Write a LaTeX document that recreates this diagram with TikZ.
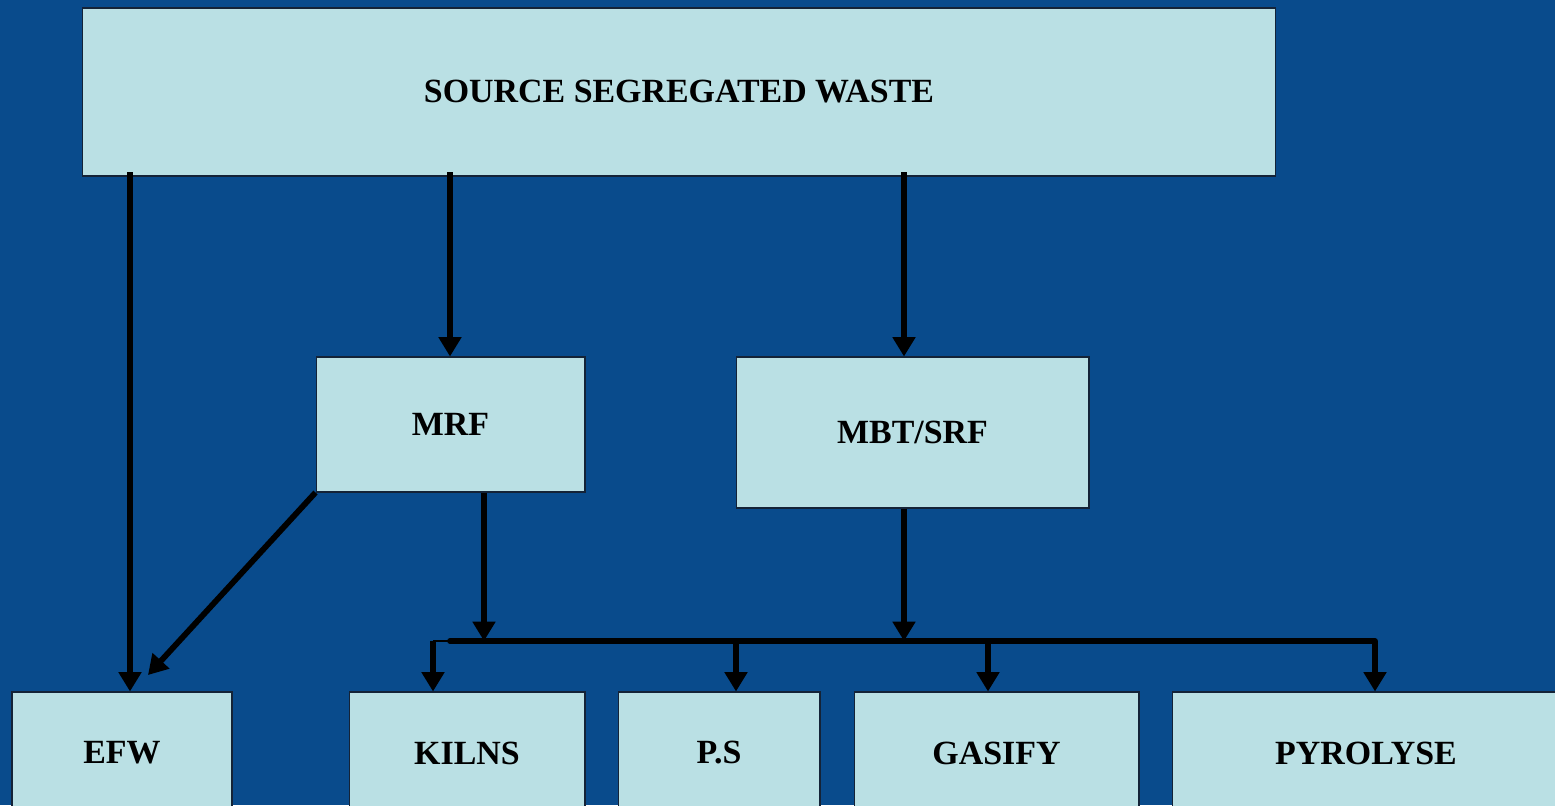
\documentclass[tikz,border=0pt]{standalone}
\usepackage{fontspec}
\setmainfont{Liberation Serif}
\usepackage{tikz}
\usetikzlibrary{arrows.meta}
\definecolor{bgblue}{RGB}{9,75,140}
\definecolor{boxfill}{RGB}{186,224,228}
\definecolor{boxline}{RGB}{20,35,55}

\begin{document}
\begin{tikzpicture}[x=0.02cm,y=-0.02cm,
  box/.style={draw=boxline,line width=0.6pt,fill=boxfill,inner sep=0pt,
    font=\fontsize{19.3}{21}\selectfont\bfseries},
  arr/.style={line width=3.3pt,-{Triangle[width=12.5pt,length=11pt]}},
  bus/.style={line width=3.3pt,line cap=round}]
 \useasboundingbox (0,0) rectangle (1555,805);
 \fill[bgblue] (0,0) rectangle (1555,805);
 \clip (0,0) rectangle (1555,805);
 \node[box,minimum width=23.88cm,minimum height=3.36cm] (src) at (679,92) {SOURCE SEGREGATED WASTE};
 \node[box,minimum width=5.38cm,minimum height=2.7cm] (mrf) at (450.5,424.5) {MRF};
 \node[box,minimum width=7.06cm,minimum height=3.02cm] (mbt) at (912.5,432.5) {MBT/SRF};
 \node[box,minimum width=4.4cm,minimum height=2.44cm] (efw) at (122,753) {EFW};
 \node[box,minimum width=4.72cm,minimum height=2.44cm] (kilns) at (467,753) {KILNS};
 \node[box,minimum width=4.04cm,minimum height=2.44cm] (ps) at (719,753) {P.S};
 \node[box,minimum width=5.7cm,minimum height=2.44cm] (gas) at (996.5,753) {GASIFY};
 \node[box,minimum width=7.76cm,minimum height=2.44cm] (pyro) at (1366,753) {PYROLYSE};
 \coordinate (busL) at (450,641);
 \coordinate (busR) at (1375,641);
 \coordinate (efwin) at (148,675);
 \draw[arr,shorten <=-2.5pt] (130,0 |- src.south) -- (130,0 |- efw.north);
 \draw[arr,shorten <=-2.5pt] (450,0 |- src.south) -- (450,0 |- mrf.north);
 \draw[arr,shorten <=-2.5pt] (904,0 |- src.south) -- (904,0 |- mbt.north);
 \draw[arr] (mrf.south west) -- (efwin);
 \draw[arr] (484,0 |- mrf.south) -- (484,0 |- busL);
 \draw[arr] (904,0 |- mbt.south) -- (904,0 |- busL);
 \draw[bus] (busL) -- (busR);
 \draw[line width=0.8pt] (busL) -- (433,641);
 \draw[arr] (433,641) -- (433,0 |- kilns.north);
 \draw[arr] (736,641) -- (736,0 |- ps.north);
 \draw[arr] (988,641) -- (988,0 |- gas.north);
 \draw[arr] (busR) -- (busR |- pyro.north);
\end{tikzpicture}
\end{document}
